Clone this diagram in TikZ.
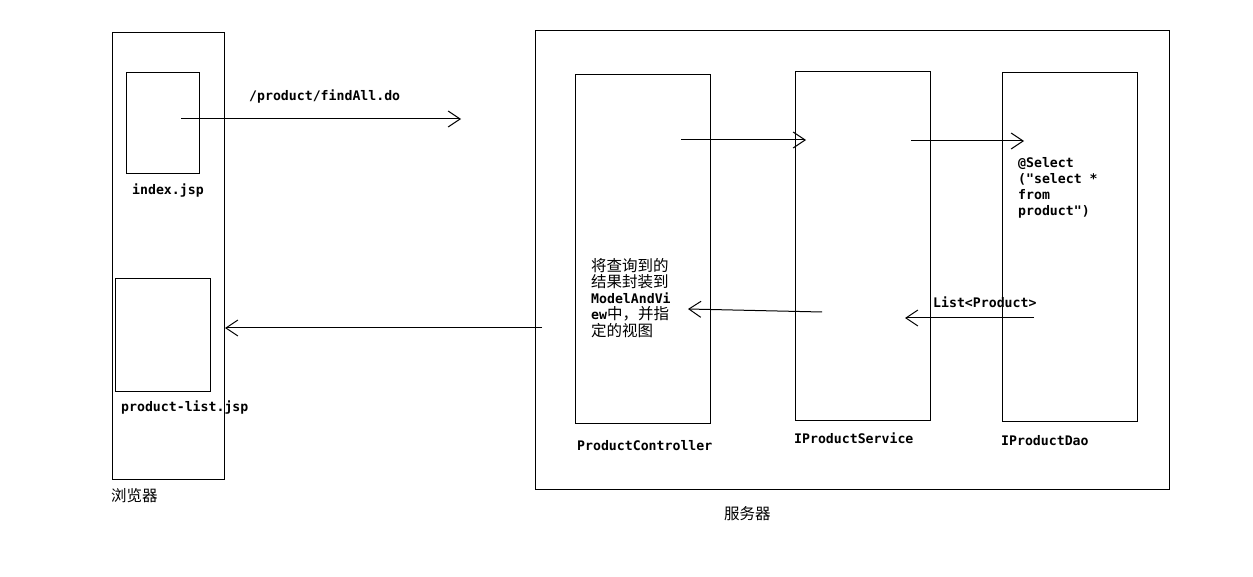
\documentclass[tikz,border=0pt]{standalone}
\usepackage{fontspec}
\setmonofont{DejaVu Sans Mono}
\newfontfamily\cjk{Noto Sans CJK SC}
\newcommand{\zh}[1]{{\cjk\mdseries\fontsize{15.5}{16.2}\selectfont #1}}
\usetikzlibrary{arrows.meta}
\tikzset{
  box/.style={draw, line width=1pt, anchor=north west, inner sep=0pt, outer sep=0pt},
  mono/.style={font=\ttfamily\bfseries\fontsize{13.2}{16}\selectfont, inner sep=0pt, anchor=west},
  monoblock/.style={font=\ttfamily\bfseries\fontsize{13.2}{16.2}\selectfont, inner sep=0pt, anchor=north west, align=left},
  cn/.style={font=\cjk\fontsize{15.5}{16}\selectfont, inner sep=0pt, anchor=west},
  flow/.style={line width=1pt, -{Straight Barb[length=12pt,width=16pt,line width=1pt]}}
}
\begin{document}
\begin{tikzpicture}[x=1pt,y=-1pt]
\useasboundingbox (0,0) rectangle (1253,577);
% browser
\node[box, minimum width=112pt, minimum height=446pt] (browser) at (112,33) {};
\node[box, minimum width=73pt, minimum height=101pt] (index) at (126,73) {};
\node[box, minimum width=95pt, minimum height=112pt] (plist) at (115,279) {};
\node[mono] (indexlbl) at (132,191) {index.jsp};
\node[mono] (plistlbl) at (121,408) {product-list.jsp};
\node[cn] (browserlbl) at (111,496) {浏览器};
% server
\node[box, minimum width=634pt, minimum height=458pt] (server) at (535,31) {};
\node[box, minimum width=135pt, minimum height=348pt] (ctrl) at (575,75) {};
\node[box, minimum width=135pt, minimum height=348pt] (svc) at (795,72) {};
\node[box, minimum width=135pt, minimum height=348pt] (dao) at (1002,73) {};
\node[mono] (ctrllbl) at (577,446) {ProductController};
\node[mono] (svclbl) at (794,438) {IProductService};
\node[mono] (daolbl) at (1001,441) {IProductDao};
\node[cn] (serverlbl) at (724,514) {服务器};
% texts
\node[mono] (url) at (249,97) {/product/findAll.do};
\node[monoblock] (sel) at (1018,157) {@Select\\("select *\\from\\product")};
\node[mono] (list) at (933,302) {List<Product>};
\node[monoblock] (desc) at (591,258)
  {\zh{将查询到的}\\\zh{结果封装到}\\ModelAndVi\\ew\zh{中，并指}\\\zh{定的视图}};
% connectors
\coordinate (a1s) at (181,119); \coordinate (a1e) at (461,119);
\coordinate (a2s) at (681,140); \coordinate (a2e) at (806,140);
\coordinate (a3s) at (911,141); \coordinate (a3e) at (1024,141);
\coordinate (a4s) at (1034,318); \coordinate (a4e) at (905,318);
\coordinate (a5s) at (822,312); \coordinate (a5e) at (688,309);
\coordinate (a6s) at (542,328); \coordinate (a6e) at (225,328);
\draw[flow] (a1s) -- (a1e);
\draw[flow] (a2s) -- (a2e);
\draw[flow] (a3s) -- (a3e);
\draw[flow] (a4s) -- (a4e);
\draw[flow] (a5s) -- (a5e);
\draw[flow] (a6s) -- (a6e);
\end{tikzpicture}
\end{document}
